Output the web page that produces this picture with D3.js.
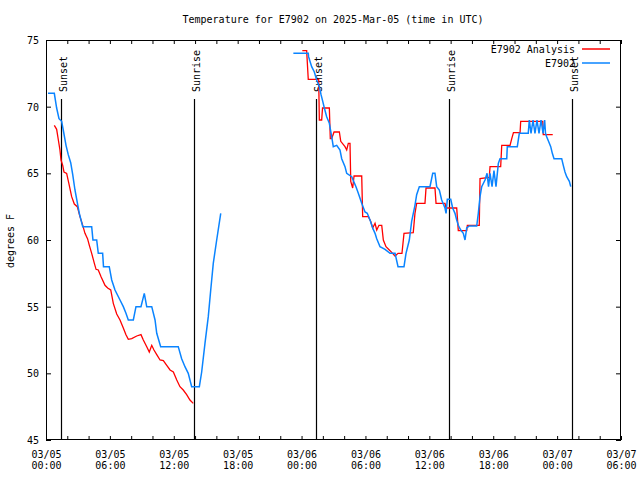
<!DOCTYPE html>
<html>
<head>
<meta charset="utf-8">
<script src="https://cdn.jsdelivr.net/npm/d3@7"></script>
<style>
body{margin:0;background:#fff;}
text{font-family:"DejaVu Sans Mono","Liberation Mono",monospace;font-size:10px;fill:#000;}
</style>
</head>
<body>
<svg id="chart" width="640" height="480"></svg>
<script>
// ---- data (hours since 2025-03-05 00:00 UTC, temperature in F) ----
const titleText = "Temperature for E7902 on 2025-Mar-05 (time in UTC)";
const yLabel = "degrees F";
const seriesNames = ["E7902 Analysis", "E7902"];
const yTicks = [45, 50, 55, 60, 65, 70, 75];

// Analysis (red); null = gap
const anaHours = [0.78,1.0,1.16,1.31,1.41,1.57,1.69,1.94,2.13,2.41,2.66,2.94,3.19,3.45,3.66,3.9,4.07,4.29,4.54,4.7,4.91,5.17,5.54,5.79,6.08,6.32,6.64,6.95,7.26,7.51,7.73,8.05,8.52,8.92,9.14,9.46,9.7,9.93,10.14,10.4,10.71,11.02,11.34,11.65,11.96,12.28,12.58,12.89,13.21,13.52,13.83,
  18.0,
  24.07,24.48,24.51,24.63,25.61,25.67,25.89,25.97,26.61,26.70,26.83,27.05,27.55,27.68,28.08,28.24,28.39,28.55,28.62,28.80,28.93,29.65,29.74,30.27,30.49,30.68,30.90,31.06,31.27,31.53,31.68,31.93,32.31,32.78,33.06,33.43,33.62,34.49,34.65,34.81,35.59,35.69,36.53,36.63,37.47,37.57,38.57,38.72,39.51,39.57,40.69,40.76,41.63,41.70,42.70,42.80,43.58,43.74,43.90,44.52,44.58,46.65,46.70,47.59];
const anaTemps = [68.6,68.3,67.5,66.75,66.0,65.6,65.1,65.0,64.3,63.25,62.7,62.5,61.75,61.1,60.5,60.1,59.6,59.0,58.25,57.8,57.75,57.25,56.6,56.4,56.25,55.25,54.45,54.0,53.4,52.9,52.55,52.6,52.8,52.9,52.5,52.0,51.6,52.1,51.75,51.4,51.0,50.95,50.6,50.25,50.1,49.5,49.0,48.75,48.4,48.0,47.75,
  null,
  74.2,74.2,73.75,72.05,72.05,69.0,69.0,69.9,69.9,67.6,67.6,68.1,68.1,67.4,67.0,66.75,67.25,67.25,64.4,63.9,64.8,64.8,61.75,61.75,61.4,60.9,61.25,60.75,61.1,61.1,60.0,59.5,59.2,58.8,59.0,59.0,60.5,60.55,62.0,62.75,62.75,63.9,63.9,62.75,62.75,62.4,62.4,60.7,60.7,61.1,61.1,64.6,64.7,65.5,65.5,67.1,67.1,67.6,68.05,68.05,68.9,68.9,67.9,67.9];

// Observations (blue); null = gap
const obsHours = [0.19,0.78,1.0,1.22,1.47,1.62,1.88,2.09,2.32,2.51,2.72,2.94,3.13,3.35,3.45,4.29,4.41,4.76,4.91,5.32,5.4,5.94,6.17,6.48,6.95,7.26,7.51,7.73,8.2,8.45,8.92,9.23,9.46,9.93,10.24,10.4,10.77,12.42,12.74,13.05,13.36,13.68,14.4,14.62,14.93,15.24,15.47,15.71,16.03,16.41,
  20.0,
  23.23,24.63,24.66,24.79,24.95,25.20,25.42,25.67,25.83,25.99,26.14,26.36,26.61,26.83,26.98,27.30,27.61,27.77,28.08,28.24,28.71,29.11,29.33,29.65,29.96,30.17,30.43,30.68,30.90,31.06,31.37,31.84,32.31,32.78,33.06,33.62,33.81,34.12,34.34,34.65,34.81,35.06,36.06,36.32,36.53,36.69,36.94,37.16,37.47,37.57,37.69,38.01,38.19,38.41,38.57,38.72,38.95,39.19,39.35,39.51,39.75,40.45,40.60,40.76,40.92,41.23,41.42,41.56,41.70,41.89,42.07,42.26,42.48,42.64,43.27,43.32,44.26,44.45,45.29,45.39,45.55,45.74,45.92,46.11,46.30,46.49,46.68,46.83,46.91,47.02,47.27,47.40,47.55,47.71,48.43,48.58,48.74,48.90,49.15,49.28];
const obsTemps = [71,71,69.9,69.1,68.9,68.25,67.1,66.4,65.8,64.9,63.75,62.8,62.0,61.3,61,61,60,60,59,59,58,58,57,56.25,55.5,55,54.5,54,54,55,55,56,55,55,54,53,52,52,51.1,50.5,50,49,49,50.1,52.25,54.25,56.25,58.25,60,62,
  null,
  74,74,73.75,73.4,73.0,72.6,72.0,71.5,70.9,70.4,69.9,69.25,68.75,67.75,67.0,67.1,66.75,66.1,65.5,65.0,64.75,64.0,63.5,62.75,62.1,62.0,61.5,60.9,60.5,60.1,59.5,59.3,59,59,58,58,59,60,61.4,62.6,63.4,64.0,64.0,65,65,64,63.75,63.0,62.4,62.0,63.05,63.05,62.4,62.0,61.5,61.1,60.75,60.5,60.0,60.9,61.05,61.05,62.0,63.25,64.0,64.5,65,64,65,64,65.2,64,65.75,66.1,66.1,67,67,68,68,69,68,69,68,69,68,69,68,69,68,67.75,67.25,67.0,66.5,66.1,66.1,65.6,65.1,64.75,64.4,64.0];

// Sun events (hours since 2025-03-05 00:00 UTC)
const sunLabels = ["Sunset", "Sunrise", "Sunset", "Sunrise", "Sunset"];
const sunHours = [1.42, 13.9, 25.37, 37.87, 49.4];

// ---- drawing ----
const t0 = Date.UTC(2025, 2, 5, 0, 0);
const toDate = h => new Date(t0 + h * 3600000);
const svg = d3.select("#chart");
const mLeft = 46, mRight = 621, mTop = 40, mBottom = 440;

const x = d3.scaleUtc().domain([toDate(0), toDate(54)]).range([mLeft, mRight]);
const y = d3.scaleLinear().domain([45, 75]).range([mBottom, mTop]);
const fontFam = '"DejaVu Sans Mono","Liberation Mono",monospace';

// title
svg.append("text").attr("x", 333).attr("y", 23).attr("text-anchor", "middle").text(titleText);
// y label
svg.append("text").attr("transform", "translate(14,241) rotate(-90)").attr("text-anchor", "middle").text(yLabel);

// ticks
const hourTicks = d3.range(0, 55, 2).map(toDate);
const labelTicks = d3.range(0, 55, 6).map(toDate);
const fmtTop = d3.utcFormat("%m/%d"), fmtBot = d3.utcFormat("%H:%M");

svg.append("g").attr("transform", `translate(0,${mBottom})`)
  .call(d3.axisBottom(x).tickValues(hourTicks).tickSizeInner(-4).tickSizeOuter(0).tickFormat(""))
  .call(g => g.select(".domain").remove());
svg.append("g").attr("transform", `translate(0,${mTop})`)
  .call(d3.axisTop(x).tickValues(hourTicks).tickSizeInner(-4).tickSizeOuter(0).tickFormat(""))
  .call(g => g.select(".domain").remove());

const xl = svg.append("g").attr("transform", `translate(0,${mBottom})`)
  .call(d3.axisBottom(x).tickValues(labelTicks).tickSize(0).tickFormat(""));
xl.select(".domain").remove();
xl.selectAll(".tick").each(function(d) {
  const t = d3.select(this).append("text").attr("text-anchor", "middle");
  t.append("tspan").attr("x", 0).attr("y", 18).text(fmtTop(d));
  t.append("tspan").attr("x", 0).attr("y", 29).text(fmtBot(d));
});
xl.selectAll("text").attr("fill", "#000").style("font-size", "10px").style("font-family", fontFam);

svg.append("g").attr("transform", `translate(${mLeft},0)`)
  .call(d3.axisLeft(y).tickValues(yTicks).tickSizeInner(-5).tickSizeOuter(0).tickPadding(7).tickFormat(d3.format("d")))
  .call(g => g.select(".domain").remove())
  .call(g => g.selectAll("text").attr("fill", "#000").attr("dy", "0.35em").style("font-size", "10px").style("font-family", fontFam));
svg.append("g").attr("transform", `translate(${mRight},0)`)
  .call(d3.axisRight(y).tickValues(yTicks).tickSizeInner(-5).tickSizeOuter(0).tickFormat(""))
  .call(g => g.select(".domain").remove());
svg.selectAll(".tick line").attr("stroke", "#000");

// sun lines
const sun = svg.append("g");
sunHours.forEach((h, i) => {
  const xp = Math.round(x(toDate(h))) + 0.5;
  sun.append("line").attr("x1", xp).attr("x2", xp).attr("y1", 99).attr("y2", mBottom)
    .attr("stroke", "#000").attr("stroke-width", 1.2);
  sun.append("text").attr("transform", `translate(${xp + 5},92) rotate(-90)`)
    .attr("text-anchor", "start").text(sunLabels[i]);
});

// lines
const mk = (hs, vs) => hs.map((h, i) => ({ t: toDate(h), v: vs[i] }));
const line = d3.line().defined(d => d.v !== null).x(d => x(d.t)).y(d => y(d.v));
svg.append("path").datum(mk(anaHours, anaTemps)).attr("d", line)
  .attr("fill", "none").attr("stroke", "#ff0000").attr("stroke-width", 1.3);
svg.append("path").datum(mk(obsHours, obsTemps)).attr("d", line)
  .attr("fill", "none").attr("stroke", "#0a84ff").attr("stroke-width", 1.5);

// frame
svg.append("rect").attr("x", mLeft + 0.5).attr("y", mTop + 0.5).attr("width", mRight - mLeft - 1).attr("height", mBottom - mTop - 1)
  .attr("fill", "none").attr("stroke", "#000").attr("stroke-width", 1);

// legend
const legColors = ["#ff0000", "#0a84ff"];
seriesNames.forEach((n, i) => {
  const ly = 49 + i * 14;
  svg.append("text").attr("x", 575).attr("y", ly + 4).attr("text-anchor", "end").text(n);
  svg.append("line").attr("x1", 582).attr("x2", 610).attr("y1", ly).attr("y2", ly)
    .attr("stroke", legColors[i]).attr("stroke-width", 1.5);
});
</script>
</body>
</html>
